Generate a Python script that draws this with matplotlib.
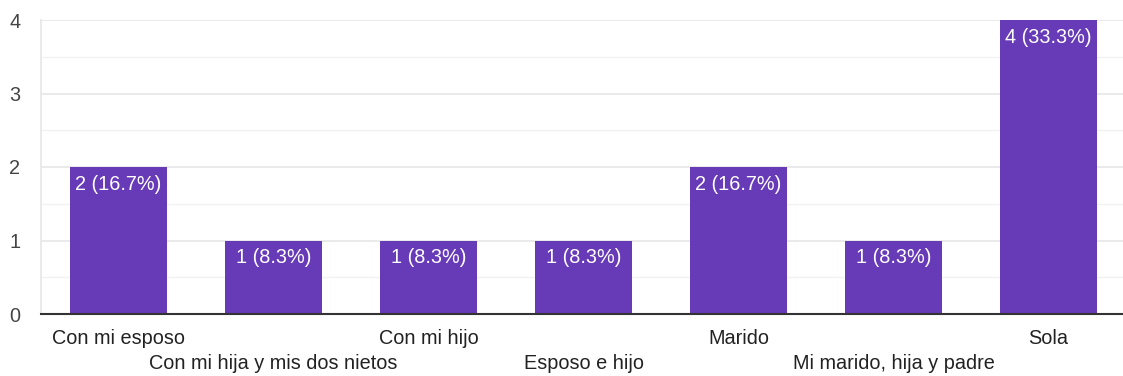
import matplotlib.pyplot as plt
import matplotlib.transforms as mtransforms

categories = ['Con mi esposo', 'Con mi hija y mis dos nietos', 'Con mi hijo',
              'Esposo e hijo', 'Marido', 'Mi marido, hija y padre', 'Sola']
counts = [2, 1, 1, 1, 2, 1, 4]
labels = ['2 (16.7%)', '1 (8.3%)', '1 (8.3%)', '1 (8.3%)',
          '2 (16.7%)', '1 (8.3%)', '4 (33.3%)']
yticks = [0, 1, 2, 3, 4]

plt.rcParams['font.family'] = ['Liberation Sans', 'DejaVu Sans']

fig = plt.figure(figsize=(11.23, 3.76), dpi=100)
ax = fig.add_axes([41 / 1123, 1 - 314 / 376, 1085 / 1123, 294 / 376])

x = list(range(len(categories)))
ax.bar(x, counts, width=0.63, color='#673ab7', zorder=3)

for i, (c, lab) in enumerate(zip(counts, labels)):
    ax.annotate(lab, (i, c), xytext=(0, -5.5), textcoords='offset points',
                ha='center', va='top', color='white', fontsize=14.3, zorder=4)

ax.set_xlim(-0.5, len(categories) - 0.5)
ax.set_ylim(0, 4)
ax.set_yticks(yticks)
ax.set_yticks([0.5, 1.5, 2.5, 3.5], minor=True)
ax.tick_params(axis='y', which='both', length=0, pad=15, labelsize=14.3, labelcolor='#444444')
ax.set_yticklabels([str(t) for t in yticks], ha='right')
ax.set_xticks([])
ax.grid(axis='y', which='major', color='#e6e6e6', lw=1.2, zorder=0)
ax.grid(axis='y', which='minor', color='#f2f2f2', lw=1.0, zorder=0)

for side in ['top', 'right']:
    ax.spines[side].set_visible(False)
ax.spines['left'].set_color('#e6e6e6')
ax.spines['left'].set_linewidth(1.2)
ax.spines['bottom'].set_color('#333333')
ax.spines['bottom'].set_linewidth(1.5)
ax.spines['bottom'].set_zorder(5)

trans = mtransforms.blended_transform_factory(ax.transData, ax.transAxes)
for i, cat in enumerate(categories):
    yoff = -0.05 if i % 2 == 0 else -0.135
    ax.text(i, yoff, cat, transform=trans, ha='center', va='top',
            fontsize=14.3, color='#222222')

plt.savefig('out.png', dpi=100)
plt.close()
